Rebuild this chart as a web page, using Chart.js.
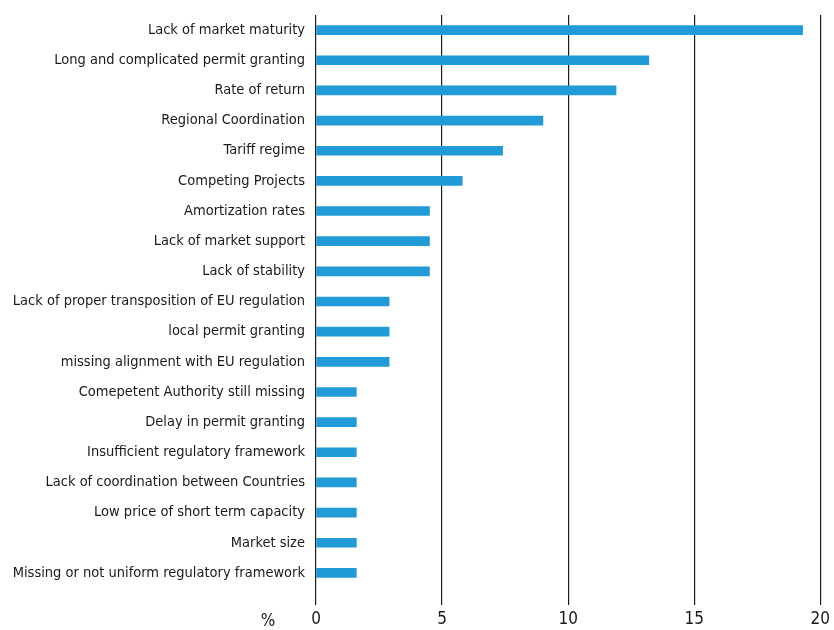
<!DOCTYPE html>
<html>
<head>
<meta charset="utf-8">
<script src="https://cdn.jsdelivr.net/npm/chart.js@4"></script>
<style>
html,body{margin:0;padding:0;background:#fff;}
#wrap{width:834px;height:630px;position:relative;}
</style>
</head>
<body>
<div id="wrap"><canvas id="c" width="834" height="630"></canvas></div>
<script>
// categories + values (% of answers)
const labels=["Lack of market maturity","Long and complicated permit granting","Rate of return","Regional Coordination","Tariff regime","Competing Projects","Amortization rates","Lack of market support","Lack of stability","Lack of proper transposition of EU regulation","local permit granting","missing alignment with EU regulation","Comepetent Authority still missing","Delay in permit granting","Insufficient regulatory framework","Lack of coordination between Countries","Low price of short term capacity","Market size","Missing or not uniform regulatory framework"];
const values=[19.3,13.2,11.9,9.0,7.4,5.8,4.5,4.5,4.5,2.9,2.9,2.9,1.6,1.6,1.6,1.6,1.6,1.6,1.6];
const xTicks=[0,5,10,15,20];
const unitLabel="%";

// condensed face: stretch keyword rides in the weight slot of the font string
const fam="'DejaVu Sans',sans-serif";
const wt="normal condensed";
const txt="#1a1a1a";

// "%" next to the x tick labels
const unitPlugin={id:"unit",afterDraw(ch){const c=ch.ctx;
  c.save(); c.font=wt+" 17px "+fam; c.fillStyle=txt; c.textAlign="center"; c.textBaseline="middle";
  c.fillText(unitLabel,ch.chartArea.left-48,622); c.restore();}};

new Chart(document.getElementById("c"),{
  type:"bar",
  data:{labels,datasets:[{data:values,backgroundColor:"#219bd7",barThickness:9}]},
  options:{indexAxis:"y",responsive:false,animation:false,
    layout:{padding:{top:15,right:11,left:0,bottom:0}},
    plugins:{legend:{display:false},tooltip:{enabled:false}},
    scales:{
      x:{min:0,max:20,z:1,afterBuildTicks:s=>{s.ticks=xTicks.map(v=>({value:v}));},
        afterFit:s=>{s.height=42;},
        grid:{color:"#1e1e1e",lineWidth:1.2,tickLength:17},border:{display:false},
        ticks:{color:txt,font:{family:fam,weight:wt,size:17},padding:4,maxRotation:0}},
      y:{grid:{display:false,drawTicks:false},border:{display:false},
        afterFit:s=>{s.width=316; s.paddingTop=0; s.paddingBottom=0;},
        ticks:{color:txt,font:{family:fam,weight:wt,size:14.5},padding:11,autoSkip:false}}
    }},
  plugins:[unitPlugin]
});
</script>
</body>
</html>
